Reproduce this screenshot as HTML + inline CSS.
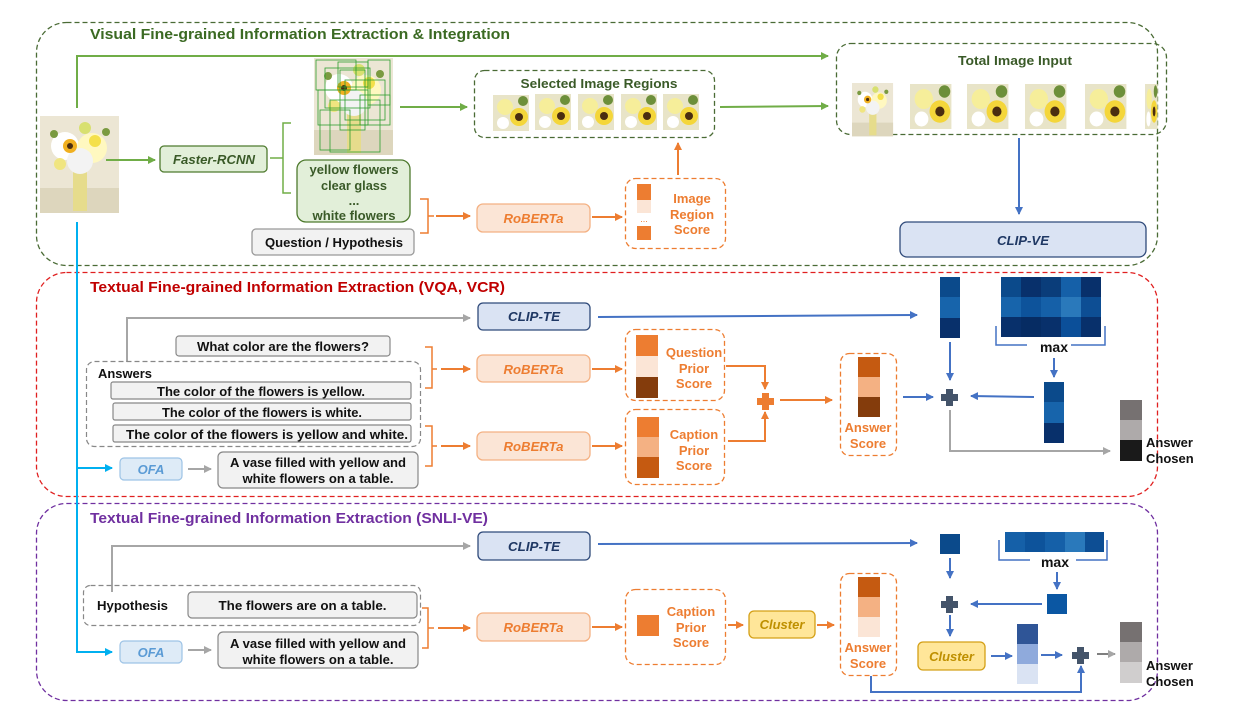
<!DOCTYPE html>
<html><head><meta charset="utf-8"><style>
html,body{margin:0;padding:0;background:#fff;}
svg{display:block;font-family:"Liberation Sans",sans-serif;}
.b{font-weight:bold;}
</style></head><body>
<svg width="1259" height="709" viewBox="0 0 1259 709" xmlns="http://www.w3.org/2000/svg">
<defs>
<marker id="ag" markerWidth="8" markerHeight="8" refX="7" refY="4" orient="auto" markerUnits="userSpaceOnUse"><path d="M0,0 L8,4 L0,8 z" fill="#70ad47"/></marker>
<marker id="ao" markerWidth="8" markerHeight="8" refX="7" refY="4" orient="auto" markerUnits="userSpaceOnUse"><path d="M0,0 L8,4 L0,8 z" fill="#ed7d31"/></marker>
<marker id="ab" markerWidth="8" markerHeight="8" refX="7" refY="4" orient="auto" markerUnits="userSpaceOnUse"><path d="M0,0 L8,4 L0,8 z" fill="#4472c4"/></marker>
<marker id="ay" markerWidth="8" markerHeight="8" refX="7" refY="4" orient="auto" markerUnits="userSpaceOnUse"><path d="M0,0 L8,4 L0,8 z" fill="#a6a6a6"/></marker>
<marker id="ac" markerWidth="8" markerHeight="8" refX="7" refY="4" orient="auto" markerUnits="userSpaceOnUse"><path d="M0,0 L8,4 L0,8 z" fill="#00b0f0"/></marker>
<g id="fl">
<rect width="36" height="36" fill="#e8e4c8"/>
<circle cx="12" cy="12" r="8" fill="#f6ee9a"/><circle cx="26" cy="22" r="9" fill="#f4d63a"/>
<circle cx="26" cy="22" r="4" fill="#4a2d10"/><circle cx="10" cy="28" r="6" fill="#fff"/><circle cx="30" cy="6" r="5" fill="#6d8f3a"/>
</g>
<g id="vase">
<rect width="79" height="97" fill="#ece6d4"/>
<rect x="0" y="72" width="79" height="25" fill="#ddd6bd"/>
<rect x="33" y="55" width="14" height="40" fill="#e6dc8c"/>
<circle cx="25" cy="30" r="14" fill="#fff"/><circle cx="52" cy="32" r="15" fill="#fff8c0"/><circle cx="40" cy="45" r="13" fill="#f3f3f3"/>
<circle cx="30" cy="30" r="7" fill="#f0b020"/><circle cx="30" cy="30" r="3" fill="#4a2d10"/>
<circle cx="55" cy="25" r="6" fill="#f4e04a"/><circle cx="20" cy="48" r="6" fill="#f0e580"/><circle cx="45" cy="12" r="6" fill="#d8e070"/>
<circle cx="14" cy="18" r="4" fill="#7a9a40"/><circle cx="66" cy="16" r="4" fill="#7a9a40"/>
</g>
</defs>

<rect x="36.5" y="22.5" width="1121" height="243" rx="30" fill="none" stroke="#4a6b35" stroke-width="1.3" stroke-dasharray="5,3"/>
<rect x="36.5" y="272.5" width="1121" height="224" rx="30" fill="none" stroke="#e02020" stroke-width="1.3" stroke-dasharray="5,3"/>
<rect x="36.5" y="503.5" width="1121" height="197" rx="30" fill="none" stroke="#7030a0" stroke-width="1.3" stroke-dasharray="5,3"/>
<text x="90" y="39" class="b" font-size="15" fill="#3b6a23" textLength="420" lengthAdjust="spacingAndGlyphs">Visual Fine-grained Information Extraction &amp; Integration</text>
<text x="90" y="292" class="b" font-size="15" fill="#c00000" textLength="415" lengthAdjust="spacingAndGlyphs">Textual Fine-grained Information Extraction (VQA, VCR)</text>
<text x="90" y="523" class="b" font-size="15" fill="#7030a0" textLength="398" lengthAdjust="spacingAndGlyphs">Textual Fine-grained Information Extraction (SNLI-VE)</text>

<use href="#vase" x="40" y="116"/>
<polyline points="77,108 77,56 828,56" fill="none" stroke="#70ad47" stroke-width="2" marker-end="url(#ag)"/>
<polyline points="77,222 77,652 112,652" fill="none" stroke="#00b0f0" stroke-width="2" marker-end="url(#ac)"/>
<line x1="77" y1="468" x2="112" y2="468" stroke="#00b0f0" stroke-width="2" marker-end="url(#ac)"/>

<line x1="106" y1="160" x2="155" y2="160" stroke="#70ad47" stroke-width="2" marker-end="url(#ag)"/>
<rect x="160" y="146" width="107" height="26" rx="4" fill="#e2efd9" stroke="#4e7a2e" stroke-width="1.3"/>
<text x="214" y="164" text-anchor="middle" class="b" font-style="italic" font-size="13" fill="#3a5a28" textLength="82" lengthAdjust="spacingAndGlyphs">Faster-RCNN</text>
<path d="M291,123 H283 V193 H291 M283,158 H270" fill="none" stroke="#70ad47" stroke-width="1.5"/>
<use href="#vase" x="314" y="58"/>
<g fill="none" stroke="#2e9e2e" stroke-width="0.8">
<rect x="316" y="60" width="40" height="30"/><rect x="325" y="68" width="45" height="40"/><rect x="338" y="62" width="30" height="25"/>
<rect x="318" y="90" width="50" height="35"/><rect x="345" y="80" width="40" height="40"/><rect x="330" y="100" width="50" height="52"/>
<rect x="320" y="110" width="30" height="40"/><rect x="360" y="95" width="30" height="30"/><rect x="340" y="70" width="25" height="60"/>
<rect x="368" y="60" width="22" height="45"/>
</g>
<rect x="297" y="160" width="113" height="62" rx="9" fill="#e2efd9" stroke="#4e7a2e" stroke-width="1.3"/>
<g class="b" font-size="13" fill="#3a5a28" text-anchor="middle">
<text x="354" y="174" textLength="89" lengthAdjust="spacingAndGlyphs">yellow flowers</text><text x="354" y="190" textLength="66" lengthAdjust="spacingAndGlyphs">clear glass</text><text x="354" y="205">...</text><text x="354" y="220" textLength="83" lengthAdjust="spacingAndGlyphs">white flowers</text></g>
<line x1="400" y1="107" x2="467" y2="107" stroke="#70ad47" stroke-width="2" marker-end="url(#ag)"/>
<rect x="474.5" y="70.5" width="240" height="67" rx="10" fill="none" stroke="#4a6b35" stroke-width="1.3" stroke-dasharray="5,3"/>
<text x="599" y="88" text-anchor="middle" class="b" font-size="13" fill="#3a5a28" textLength="157" lengthAdjust="spacingAndGlyphs">Selected Image Regions</text>
<use href="#fl" x="493" y="95"/><use href="#fl" x="535" y="94"/><use href="#fl" x="578" y="94"/><use href="#fl" x="621" y="94"/><use href="#fl" x="663" y="94"/>
<line x1="720" y1="107" x2="828" y2="106" stroke="#70ad47" stroke-width="2" marker-end="url(#ag)"/>
<rect x="836.5" y="43.5" width="330" height="91" rx="14" fill="none" stroke="#4a6b35" stroke-width="1.3" stroke-dasharray="5,3"/>
<text x="1015" y="65" text-anchor="middle" class="b" font-size="13" fill="#3a5a28" textLength="114" lengthAdjust="spacingAndGlyphs">Total Image Input</text>
<use href="#vase" transform="translate(852,83) scale(0.52,0.55)"/>
<g transform="translate(910,84) scale(1.15,1.25)"><use href="#fl"/></g>
<g transform="translate(967,84) scale(1.15,1.25)"><use href="#fl"/></g>
<g transform="translate(1025,84) scale(1.15,1.25)"><use href="#fl"/></g>
<g transform="translate(1085,84) scale(1.15,1.25)"><use href="#fl"/></g>
<g transform="translate(1145,84) scale(0.35,1.25)"><use href="#fl"/></g>
<line x1="1019" y1="138" x2="1019" y2="214" stroke="#4472c4" stroke-width="2" marker-end="url(#ab)"/>
<rect x="900" y="222" width="246" height="35" rx="7" fill="#dae3f3" stroke="#2f4a7a" stroke-width="1.3"/>
<text x="1023" y="245" text-anchor="middle" class="b" font-style="italic" font-size="13" fill="#1f3864" textLength="52" lengthAdjust="spacingAndGlyphs">CLIP-VE</text>

<rect x="252" y="229" width="162" height="26" rx="4" fill="#f2f2f2" stroke="#999" stroke-width="1.3"/>
<text x="334" y="247" text-anchor="middle" class="b" font-size="13" fill="#111" textLength="138" lengthAdjust="spacingAndGlyphs">Question / Hypothesis</text>
<path d="M420,199 H428 V233 H420 M428,216 H434" fill="none" stroke="#ed7d31" stroke-width="1.5"/>
<line x1="436" y1="216" x2="470" y2="216" stroke="#ed7d31" stroke-width="2" marker-end="url(#ao)"/>
<rect x="477" y="204" width="113" height="28" rx="6" fill="#fbe5d6" stroke="#f4b183" stroke-width="1.3"/>
<text x="533.5" y="223" text-anchor="middle" class="b" font-style="italic" font-size="13" fill="#ed7d31" textLength="60" lengthAdjust="spacingAndGlyphs">RoBERTa</text>
<line x1="592" y1="217" x2="622" y2="217" stroke="#ed7d31" stroke-width="2" marker-end="url(#ao)"/>
<rect x="625.5" y="178.5" width="100" height="70" rx="10" fill="none" stroke="#ed7d31" stroke-width="1.3" stroke-dasharray="5,3"/>
<rect x="637" y="184" width="14" height="16" fill="#ed7d31"/><rect x="637" y="200" width="14" height="13" fill="#fbe5d6"/>
<text x="644" y="222" text-anchor="middle" font-size="9" fill="#ed7d31">...</text><rect x="637" y="226" width="14" height="14" fill="#ed7d31"/>
<g class="b" font-size="13" fill="#ed7d31" text-anchor="middle"><text x="692" y="203">Image</text><text x="692" y="219">Region</text><text x="692" y="234">Score</text></g>
<line x1="678" y1="175" x2="678" y2="143" stroke="#ed7d31" stroke-width="2" marker-end="url(#ao)"/>

<polyline points="127,362 127,318 470,318" fill="none" stroke="#a6a6a6" stroke-width="2" marker-end="url(#ay)"/>
<rect x="478" y="303" width="112" height="27" rx="5" fill="#dae3f3" stroke="#2f4a7a" stroke-width="1.3"/>
<text x="534" y="321" text-anchor="middle" class="b" font-style="italic" font-size="13" fill="#1f3864" textLength="52" lengthAdjust="spacingAndGlyphs">CLIP-TE</text>
<line x1="598" y1="317" x2="917" y2="315" stroke="#4472c4" stroke-width="2" marker-end="url(#ab)"/>
<rect x="176" y="336" width="214" height="20" rx="3" fill="#f2f2f2" stroke="#888" stroke-width="1.2"/>
<text x="283" y="351" text-anchor="middle" class="b" font-size="13" fill="#111" textLength="172" lengthAdjust="spacingAndGlyphs">What color are the flowers?</text>
<rect x="86.5" y="361.5" width="334" height="85" rx="8" fill="none" stroke="#888" stroke-width="1.2" stroke-dasharray="5,3"/>
<text x="98" y="378" class="b" font-size="13" fill="#111" textLength="54" lengthAdjust="spacingAndGlyphs">Answers</text>
<rect x="111" y="382" width="300" height="17" rx="2" fill="#f2f2f2" stroke="#888" stroke-width="1.2"/>
<text x="261" y="396" text-anchor="middle" class="b" font-size="13" fill="#111" textLength="208" lengthAdjust="spacingAndGlyphs">The color of the flowers is yellow.</text>
<rect x="113" y="403" width="298" height="17" rx="2" fill="#f2f2f2" stroke="#888" stroke-width="1.2"/>
<text x="262" y="417" text-anchor="middle" class="b" font-size="13" fill="#111" textLength="200" lengthAdjust="spacingAndGlyphs">The color of the flowers is white.</text>
<rect x="113" y="425" width="298" height="17" rx="2" fill="#f2f2f2" stroke="#888" stroke-width="1.2"/>
<text x="267" y="439" text-anchor="middle" class="b" font-size="13" fill="#111" textLength="282" lengthAdjust="spacingAndGlyphs">The color of the flowers is yellow and white.</text>
<path d="M425,347 H432 V388 H425 M432,369 H437" fill="none" stroke="#ed7d31" stroke-width="1.5"/>
<line x1="441" y1="369" x2="470" y2="369" stroke="#ed7d31" stroke-width="2" marker-end="url(#ao)"/>
<path d="M425,426 H432 V466 H425 M432,446 H437" fill="none" stroke="#ed7d31" stroke-width="1.5"/>
<line x1="441" y1="446" x2="470" y2="446" stroke="#ed7d31" stroke-width="2" marker-end="url(#ao)"/>
<rect x="477" y="355" width="113" height="27" rx="6" fill="#fbe5d6" stroke="#f4b183" stroke-width="1.3"/>
<text x="533.5" y="374" text-anchor="middle" class="b" font-style="italic" font-size="13" fill="#ed7d31" textLength="60" lengthAdjust="spacingAndGlyphs">RoBERTa</text>
<rect x="477" y="432" width="113" height="28" rx="6" fill="#fbe5d6" stroke="#f4b183" stroke-width="1.3"/>
<text x="533.5" y="451" text-anchor="middle" class="b" font-style="italic" font-size="13" fill="#ed7d31" textLength="60" lengthAdjust="spacingAndGlyphs">RoBERTa</text>
<rect x="120" y="458" width="62" height="22" rx="4" fill="#deebf7" stroke="#9dc3e6" stroke-width="1.2"/>
<text x="151" y="474" text-anchor="middle" class="b" font-style="italic" font-size="13" fill="#5b9bd5">OFA</text>
<line x1="188" y1="469" x2="211" y2="469" stroke="#a6a6a6" stroke-width="2" marker-end="url(#ay)"/>
<rect x="218" y="452" width="200" height="36" rx="5" fill="#f2f2f2" stroke="#888" stroke-width="1.2"/>
<text x="318" y="467" text-anchor="middle" class="b" font-size="13" fill="#111" textLength="176" lengthAdjust="spacingAndGlyphs">A vase filled with yellow and</text>
<text x="318" y="483" text-anchor="middle" class="b" font-size="13" fill="#111" textLength="151" lengthAdjust="spacingAndGlyphs">white flowers on a table.</text>
<line x1="592" y1="369" x2="622" y2="369" stroke="#ed7d31" stroke-width="2" marker-end="url(#ao)"/>
<line x1="592" y1="446" x2="622" y2="446" stroke="#ed7d31" stroke-width="2" marker-end="url(#ao)"/>
<rect x="625.5" y="329.5" width="99" height="71" rx="10" fill="none" stroke="#ed7d31" stroke-width="1.3" stroke-dasharray="5,3"/>
<rect x="636" y="335" width="22" height="21" fill="#ed7d31"/><rect x="636" y="356" width="22" height="21" fill="#fbe5d6"/><rect x="636" y="377" width="22" height="21" fill="#843c0c"/>
<g class="b" font-size="13" fill="#ed7d31" text-anchor="middle"><text x="694" y="357">Question</text><text x="694" y="373">Prior</text><text x="694" y="388">Score</text></g>
<rect x="625.5" y="409.5" width="99" height="75" rx="10" fill="none" stroke="#ed7d31" stroke-width="1.3" stroke-dasharray="5,3"/>
<rect x="637" y="417" width="22" height="20" fill="#ed7d31"/><rect x="637" y="437" width="22" height="20" fill="#f4b183"/><rect x="637" y="457" width="22" height="21" fill="#c55a11"/>
<g class="b" font-size="13" fill="#ed7d31" text-anchor="middle"><text x="694" y="439">Caption</text><text x="694" y="455">Prior</text><text x="694" y="470">Score</text></g>
<polyline points="726,366 765,366 765,389" fill="none" stroke="#ed7d31" stroke-width="2" marker-end="url(#ao)"/>
<polyline points="728,441 765,441 765,412" fill="none" stroke="#ed7d31" stroke-width="2" marker-end="url(#ao)"/>
<path d="M762,393 h7 v5 h5 v7 h-5 v5 h-7 v-5 h-5 v-7 h5 z" fill="#ed7d31"/>
<line x1="780" y1="400" x2="832" y2="400" stroke="#ed7d31" stroke-width="2" marker-end="url(#ao)"/>
<rect x="840.5" y="353.5" width="56" height="102" rx="9" fill="none" stroke="#ed7d31" stroke-width="1.3" stroke-dasharray="5,3"/>
<rect x="858" y="357" width="22" height="20" fill="#c55a11"/><rect x="858" y="377" width="22" height="20" fill="#f4b183"/><rect x="858" y="397" width="22" height="20" fill="#843c0c"/>
<g class="b" font-size="13" fill="#ed7d31" text-anchor="middle"><text x="868" y="432">Answer</text><text x="868" y="448">Score</text></g>
<line x1="903" y1="397" x2="933" y2="397" stroke="#4472c4" stroke-width="2" marker-end="url(#ab)"/>
<path d="M946,389 h7 v5 h5 v7 h-5 v5 h-7 v-5 h-5 v-7 h5 z" fill="#44546a"/>
<rect x="940" y="277" width="20" height="20" fill="#0b4a8b"/><rect x="940" y="297" width="20" height="21" fill="#1764ab"/><rect x="940" y="318" width="20" height="20" fill="#08306b"/>
<line x1="950" y1="342" x2="950" y2="380" stroke="#4472c4" stroke-width="2" marker-end="url(#ab)"/>
<g>
<rect x="1001" y="277" width="20" height="20" fill="#0b4a8b"/><rect x="1021" y="277" width="20" height="20" fill="#08306b"/><rect x="1041" y="277" width="20" height="20" fill="#0a3d7a"/><rect x="1061" y="277" width="20" height="20" fill="#1560a8"/><rect x="1081" y="277" width="20" height="20" fill="#08306b"/>
<rect x="1001" y="297" width="20" height="20" fill="#1764ab"/><rect x="1021" y="297" width="20" height="20" fill="#0d539b"/><rect x="1041" y="297" width="20" height="20" fill="#1560a8"/><rect x="1061" y="297" width="20" height="20" fill="#2a79bb"/><rect x="1081" y="297" width="20" height="20" fill="#0d4e94"/>
<rect x="1001" y="317" width="20" height="20" fill="#08306b"/><rect x="1021" y="317" width="20" height="20" fill="#062c63"/><rect x="1041" y="317" width="20" height="20" fill="#08306b"/><rect x="1061" y="317" width="20" height="20" fill="#0b4f99"/><rect x="1081" y="317" width="20" height="20" fill="#08306b"/>
</g>
<polyline points="996,326 996,345 1027,345" fill="none" stroke="#4472c4" stroke-width="1.5"/>
<polyline points="1071,345 1105,345 1105,326" fill="none" stroke="#4472c4" stroke-width="1.5"/>
<text x="1054" y="352" text-anchor="middle" class="b" font-size="14" fill="#111">max</text>
<line x1="1054" y1="358" x2="1054" y2="377" stroke="#4472c4" stroke-width="2" marker-end="url(#ab)"/>
<rect x="1044" y="382" width="20" height="20" fill="#0b4a8b"/><rect x="1044" y="402" width="20" height="21" fill="#1764ab"/><rect x="1044" y="423" width="20" height="20" fill="#08306b"/>
<line x1="1034" y1="397" x2="971" y2="396" stroke="#4472c4" stroke-width="2" marker-end="url(#ab)"/>
<polyline points="950,410 950,451 1110,451" fill="none" stroke="#a6a6a6" stroke-width="2" marker-end="url(#ay)"/>
<rect x="1120" y="400" width="22" height="20" fill="#767171"/><rect x="1120" y="420" width="22" height="20" fill="#aeaaaa"/><rect x="1120" y="440" width="22" height="21" fill="#1a1a1a"/>
<g class="b" font-size="13" fill="#111"><text x="1146" y="447">Answer</text><text x="1146" y="463">Chosen</text></g>

<polyline points="112,592 112,546 470,546" fill="none" stroke="#a6a6a6" stroke-width="2" marker-end="url(#ay)"/>
<rect x="478" y="532" width="112" height="28" rx="5" fill="#dae3f3" stroke="#2f4a7a" stroke-width="1.3"/>
<text x="534" y="551" text-anchor="middle" class="b" font-style="italic" font-size="13" fill="#1f3864" textLength="52" lengthAdjust="spacingAndGlyphs">CLIP-TE</text>
<line x1="598" y1="544" x2="917" y2="543" stroke="#4472c4" stroke-width="2" marker-end="url(#ab)"/>
<rect x="83.5" y="585.5" width="337" height="40" rx="7" fill="none" stroke="#888" stroke-width="1.2" stroke-dasharray="5,3"/>
<text x="97" y="610" class="b" font-size="13" fill="#111" textLength="71" lengthAdjust="spacingAndGlyphs">Hypothesis</text>
<rect x="188" y="592" width="229" height="26" rx="4" fill="#f2f2f2" stroke="#888" stroke-width="1.2"/>
<text x="302.5" y="610" text-anchor="middle" class="b" font-size="13" fill="#111" textLength="168" lengthAdjust="spacingAndGlyphs">The flowers are on a table.</text>
<rect x="120" y="641" width="62" height="22" rx="4" fill="#deebf7" stroke="#9dc3e6" stroke-width="1.2"/>
<text x="151" y="657" text-anchor="middle" class="b" font-style="italic" font-size="13" fill="#5b9bd5">OFA</text>
<line x1="188" y1="650" x2="211" y2="650" stroke="#a6a6a6" stroke-width="2" marker-end="url(#ay)"/>
<rect x="218" y="632" width="200" height="36" rx="5" fill="#f2f2f2" stroke="#888" stroke-width="1.2"/>
<text x="318" y="648" text-anchor="middle" class="b" font-size="13" fill="#111" textLength="176" lengthAdjust="spacingAndGlyphs">A vase filled with yellow and</text>
<text x="318" y="664" text-anchor="middle" class="b" font-size="13" fill="#111" textLength="151" lengthAdjust="spacingAndGlyphs">white flowers on a table.</text>
<path d="M422,608 H428 V648 H422 M428,628 H434" fill="none" stroke="#ed7d31" stroke-width="1.5"/>
<line x1="438" y1="628" x2="470" y2="628" stroke="#ed7d31" stroke-width="2" marker-end="url(#ao)"/>
<rect x="477" y="613" width="113" height="28" rx="6" fill="#fbe5d6" stroke="#f4b183" stroke-width="1.3"/>
<text x="533.5" y="632" text-anchor="middle" class="b" font-style="italic" font-size="13" fill="#ed7d31" textLength="60" lengthAdjust="spacingAndGlyphs">RoBERTa</text>
<line x1="592" y1="627" x2="622" y2="627" stroke="#ed7d31" stroke-width="2" marker-end="url(#ao)"/>
<rect x="625.5" y="589.5" width="100" height="75" rx="10" fill="none" stroke="#ed7d31" stroke-width="1.3" stroke-dasharray="5,3"/>
<rect x="637" y="615" width="22" height="21" fill="#ed7d31"/>
<g class="b" font-size="13" fill="#ed7d31" text-anchor="middle"><text x="691" y="616">Caption</text><text x="691" y="632">Prior</text><text x="691" y="647">Score</text></g>
<line x1="728" y1="625" x2="743" y2="625" stroke="#ed7d31" stroke-width="2" marker-end="url(#ao)"/>
<rect x="749" y="611" width="66" height="27" rx="5" fill="#ffe699" stroke="#d4a017" stroke-width="1.3"/>
<text x="782" y="629" text-anchor="middle" class="b" font-style="italic" font-size="13" fill="#bf9000">Cluster</text>
<line x1="817" y1="625" x2="834" y2="625" stroke="#ed7d31" stroke-width="2" marker-end="url(#ao)"/>
<rect x="840.5" y="573.5" width="56" height="102" rx="9" fill="none" stroke="#ed7d31" stroke-width="1.3" stroke-dasharray="5,3"/>
<rect x="858" y="577" width="22" height="20" fill="#c55a11"/><rect x="858" y="597" width="22" height="20" fill="#f4b183"/><rect x="858" y="617" width="22" height="20" fill="#fbe5d6"/>
<g class="b" font-size="13" fill="#ed7d31" text-anchor="middle"><text x="868" y="652">Answer</text><text x="868" y="668">Score</text></g>
<rect x="940" y="534" width="20" height="20" fill="#0b4a8b"/>
<line x1="950" y1="558" x2="950" y2="578" stroke="#4472c4" stroke-width="2" marker-end="url(#ab)"/>
<path d="M946,596 h7 v5 h5 v7 h-5 v5 h-7 v-5 h-5 v-7 h5 z" fill="#44546a"/>
<rect x="1005" y="532" width="20" height="20" fill="#1560a8"/><rect x="1025" y="532" width="20" height="20" fill="#0d539b"/><rect x="1045" y="532" width="20" height="20" fill="#1560a8"/><rect x="1065" y="532" width="20" height="20" fill="#2a79bb"/><rect x="1085" y="532" width="19" height="20" fill="#0d4e94"/>
<polyline points="999,540 999,560 1030,560" fill="none" stroke="#4472c4" stroke-width="1.5"/>
<polyline points="1076,560 1107,560 1107,540" fill="none" stroke="#4472c4" stroke-width="1.5"/>
<text x="1055" y="567" text-anchor="middle" class="b" font-size="14" fill="#111">max</text>
<line x1="1057" y1="572" x2="1057" y2="589" stroke="#4472c4" stroke-width="2" marker-end="url(#ab)"/>
<rect x="1047" y="594" width="20" height="20" fill="#0b57a3"/>
<line x1="1042" y1="604" x2="971" y2="604" stroke="#4472c4" stroke-width="2" marker-end="url(#ab)"/>
<line x1="950" y1="615" x2="950" y2="636" stroke="#4472c4" stroke-width="2" marker-end="url(#ab)"/>
<rect x="918" y="642" width="67" height="28" rx="5" fill="#ffe699" stroke="#d4a017" stroke-width="1.3"/>
<text x="951.5" y="661" text-anchor="middle" class="b" font-style="italic" font-size="13" fill="#bf9000">Cluster</text>
<line x1="991" y1="656" x2="1012" y2="656" stroke="#4472c4" stroke-width="2" marker-end="url(#ab)"/>
<rect x="1017" y="624" width="21" height="20" fill="#2f5597"/><rect x="1017" y="644" width="21" height="20" fill="#8faadc"/><rect x="1017" y="664" width="21" height="20" fill="#dae3f3"/>
<line x1="1041" y1="655" x2="1062" y2="655" stroke="#4472c4" stroke-width="2" marker-end="url(#ab)"/>
<path d="M1077,647 h7 v5 h5 v7 h-5 v5 h-7 v-5 h-5 v-7 h5 z" fill="#44546a"/>
<line x1="1097" y1="654" x2="1115" y2="654" stroke="#7f7f7f" stroke-width="2" marker-end="url(#ay)"/>
<rect x="1120" y="622" width="22" height="20" fill="#767171"/><rect x="1120" y="642" width="22" height="20" fill="#aeaaaa"/><rect x="1120" y="662" width="22" height="21" fill="#d0cece"/>
<g class="b" font-size="13" fill="#111"><text x="1146" y="670">Answer</text><text x="1146" y="686">Chosen</text></g>
<polyline points="871,676 871,692 1081,692 1081,666" fill="none" stroke="#4472c4" stroke-width="2" marker-end="url(#ab)"/>
</svg>
</body></html>
